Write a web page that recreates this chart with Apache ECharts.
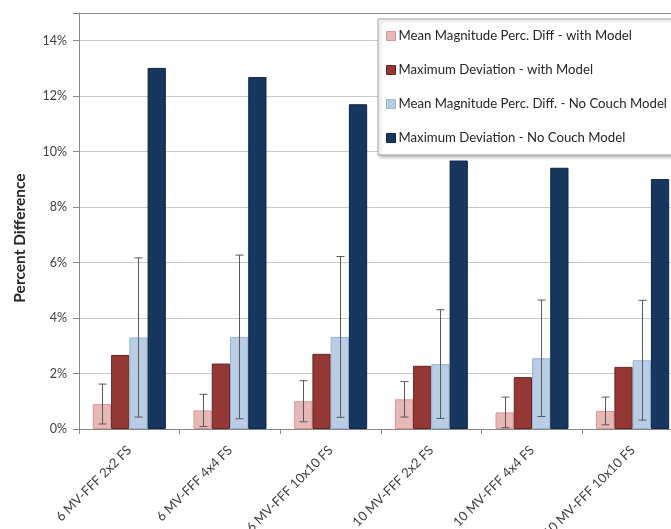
<!DOCTYPE html>
<html>
<head>
<meta charset="utf-8">
<script src="https://cdn.jsdelivr.net/npm/echarts@6/dist/echarts.min.js"></script>
<style>
  html, body { margin: 0; padding: 0; background: #fff; }
  #chart { width: 671px; height: 529px; }
</style>
</head>
<body>
<div id="chart"></div>
<script>
// Beam configurations along the x axis
var categories = ['6 MV-FFF 2x2 FS', '6 MV-FFF 4x4 FS', '6 MV-FFF 10x10 FS',
                  '10 MV-FFF 2x2 FS', '10 MV-FFF 4x4 FS', '10 MV-FFF 10x10 FS'];

// Series names
var seriesNames = ['Mean Magnitude Perc. Diff - with Model',
                   'Maximum Deviation - with Model',
                   'Mean Magnitude Perc. Diff. - No Couch Model',
                   'Maximum Deviation - No Couch Model'];

// Values in percent
var meanWithModel = [0.90, 0.67, 1.00, 1.07, 0.60, 0.65];
var errWithModel  = [0.72, 0.58, 0.74, 0.64, 0.55, 0.50];
var maxWithModel  = [2.67, 2.36, 2.71, 2.28, 1.87, 2.24];
var meanNoCouch   = [3.30, 3.32, 3.32, 2.34, 2.55, 2.48];
var errNoCouch    = [2.87, 2.95, 2.90, 1.96, 2.10, 2.16];
var maxNoCouch    = [13.02, 12.69, 11.71, 9.68, 9.42, 9.01];

// Y axis ticks (percent)
var yTicks = [0, 2, 4, 6, 8, 10, 12, 14];
var yMax = 15;

var FONT = 'Lato, "Liberation Sans", sans-serif';
var CAT_GAP = 0.275;   // fraction of a category left empty
var N_BARS = 4;

var fills   = ['#E6B9B8', '#953735', '#B9CDE5', '#17375E'];
var borders = ['#D99694', '#632523', '#95B3D7', '#0F243E'];

function barSeries(idx, values) {
  return {
    name: seriesNames[idx],
    type: 'bar',
    data: values,
    barGap: '0%',
    barCategoryGap: (CAT_GAP * 100) + '%',
    itemStyle: { color: fills[idx], borderColor: borders[idx], borderWidth: 1 },
    emphasis: { disabled: true },
    z: 2
  };
}

// Error bar for bar index `slot` inside each category group
function errorSeries(slot, means, errs) {
  var data = means.map(function (m, i) { return [i, m - errs[i], m + errs[i]]; });
  return {
    type: 'custom',
    data: data,
    z: 5,
    silent: true,
    renderItem: function (params, api) {
      var cat = api.value(0);
      var lo = api.coord([cat, api.value(1)]);
      var hi = api.coord([cat, api.value(2)]);
      var band = api.size([1, 0])[0];
      var group = band * (1 - CAT_GAP);
      var bw = group / N_BARS;
      var x = Math.round(lo[0] - group / 2 + bw * (slot + 0.5)) + 0.5;
      var cap = 4;
      var style = { stroke: '#595959', lineWidth: 1 };
      return {
        type: 'group',
        children: [
          { type: 'line', shape: { x1: x, y1: hi[1], x2: x, y2: lo[1] }, style: style },
          { type: 'line', shape: { x1: x - cap, y1: hi[1], x2: x + cap, y2: hi[1] }, style: style },
          { type: 'line', shape: { x1: x - cap, y1: lo[1], x2: x + cap, y2: lo[1] }, style: style }
        ]
      };
    }
  };
}

var chart = echarts.init(document.getElementById('chart'), null, { renderer: 'canvas' });

var splitColors = yTicks.map(function () { return '#C8C8C8'; });
splitColors.push('#8C8C8C');

chart.setOption({
  animation: false,
  backgroundColor: '#ffffff',
  grid: { left: 79, top: 13, right: -12, bottom: 100, containLabel: false, outerBoundsMode: 'none' },
  legend: {
    orient: 'vertical',
    left: 378,
    top: 19,
    padding: [10, 6, 10, 8],
    itemWidth: 9,
    itemHeight: 9,
    itemGap: 20,
    icon: 'rect',
    selectedMode: false,
    backgroundColor: '#ffffff',
    borderColor: '#A0A0A0',
    borderWidth: 1,
    shadowColor: 'rgba(0,0,0,0.25)',
    shadowBlur: 3,
    shadowOffsetX: 2,
    shadowOffsetY: 2,
    textStyle: { fontFamily: FONT, fontSize: 13.2, color: '#262626', lineHeight: 14, padding: [0, 0, 0, -2] },
    data: seriesNames.map(function (n, i) {
      return { name: n, itemStyle: { color: fills[i], borderColor: borders[i], borderWidth: 1 } };
    })
  },
  xAxis: {
    type: 'category',
    data: categories,
    boundaryGap: true,
    axisLine: { show: true, lineStyle: { color: '#868686', width: 1 } },
    axisTick: { show: true, alignWithLabel: false, length: 5, lineStyle: { color: '#868686' } },
    axisLabel: {
      rotate: 45,
      interval: 0,
      margin: 19,
      fontFamily: FONT,
      fontSize: 13,
      color: '#404040'
    },
    splitLine: { show: false }
  },
  yAxis: {
    type: 'value',
    min: 0,
    max: yMax,
    interval: 2,
    axisLine: { show: true, lineStyle: { color: '#868686', width: 1 } },
    axisTick: { show: true, length: 6, lineStyle: { color: '#868686' } },
    axisLabel: {
      margin: 12,
      fontFamily: FONT,
      fontSize: 12.5,
      color: '#404040',
      formatter: function (v) { return yTicks.indexOf(v) >= 0 ? v + '%' : ''; }
    },
    splitLine: { show: true, lineStyle: { color: splitColors, width: 1 } }
  },
  graphic: [{
    type: 'text',
    x: 20,
    y: 238,
    rotation: Math.PI / 2,
    style: {
      text: 'Percent Difference',
      font: 'bold 15.5px ' + FONT,
      fill: '#262626',
      textAlign: 'center',
      textVerticalAlign: 'middle'
    }
  }],
  series: [
    barSeries(0, meanWithModel),
    barSeries(1, maxWithModel),
    barSeries(2, meanNoCouch),
    barSeries(3, maxNoCouch),
    errorSeries(0, meanWithModel, errWithModel),
    errorSeries(2, meanNoCouch, errNoCouch)
  ]
});
</script>
</body>
</html>
